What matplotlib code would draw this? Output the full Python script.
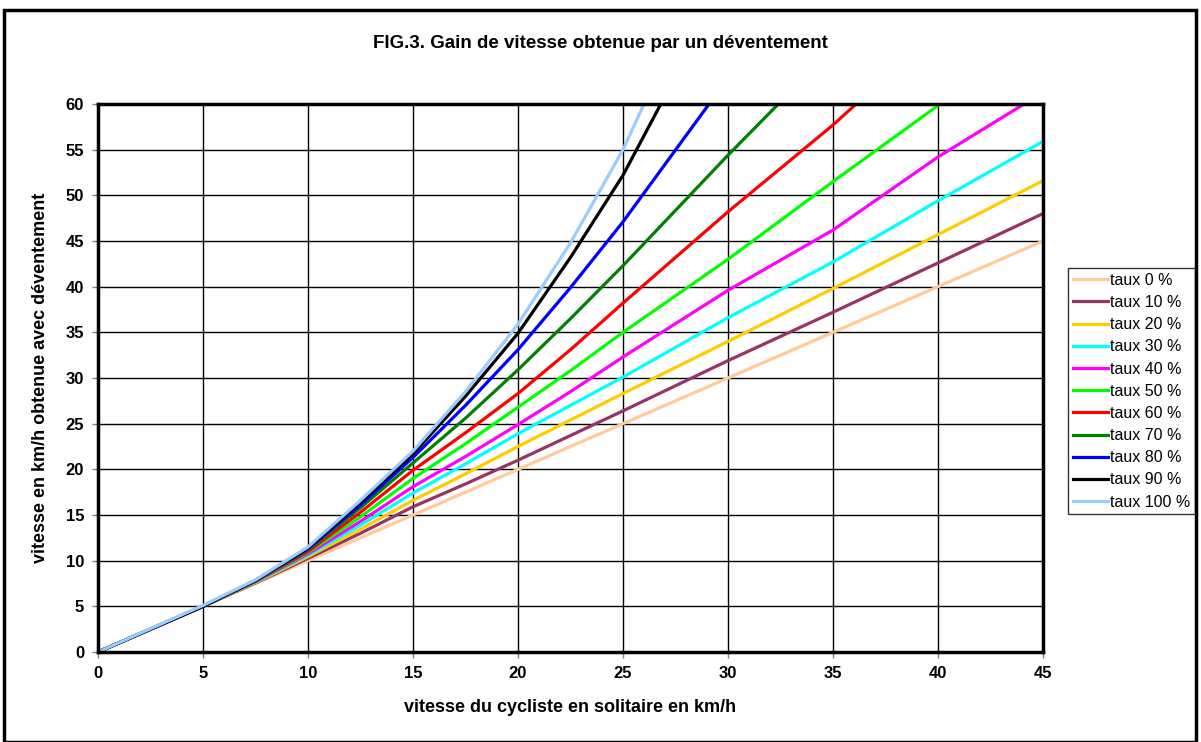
import matplotlib.pyplot as plt
from matplotlib.patches import Rectangle

plt.rcParams['font.family'] = ['Liberation Sans', 'DejaVu Sans']

# vitesse solo (x) et vitesse obtenue (y) pour chaque taux de déventement
x_0 = [0, 5, 10, 15, 20, 25, 30, 35, 40, 45]
y_0 = [0, 5, 10, 15, 20, 25, 30, 35, 40, 45]
x_10 = [0, 5, 7.5, 10, 12.5, 15, 17.5, 20, 25, 30, 35, 40, 45]
y_10 = [0, 5, 7.55, 10.25, 13.0, 15.9, 18.4, 21.0, 26.4, 31.9, 37.2, 42.6, 48.0]
x_20 = [0, 5, 7.5, 10, 12.5, 15, 17.5, 20, 25, 30, 35, 40, 45]
y_20 = [0, 5, 7.6, 10.45, 13.45, 16.6, 19.5, 22.5, 28.3, 34.0, 39.8, 45.7, 51.6]
x_30 = [0, 5, 7.5, 10, 12.5, 15, 17.5, 20, 25, 30, 35, 40, 45]
y_30 = [0, 5, 7.65, 10.6, 13.9, 17.4, 20.6, 23.9, 30.1, 36.6, 42.7, 49.4, 55.9]
x_40 = [0, 5, 7.5, 10, 12.5, 15, 17.5, 20, 22.5, 25, 30, 35, 40, 44.1]
y_40 = [0, 5, 7.7, 10.75, 14.3, 18.1, 21.4, 24.9, 28.5, 32.3, 39.6, 46.2, 54.2, 60]
x_50 = [0, 5, 7.5, 10, 12.5, 15, 17.5, 20, 22.5, 25, 30, 35, 40.1]
y_50 = [0, 5, 7.72, 10.9, 14.8, 19.0, 22.8, 26.8, 30.8, 35.0, 43.0, 51.5, 60]
x_60 = [0, 5, 7.5, 10, 12.5, 15, 17.5, 20, 22.5, 25, 30, 35, 36.1]
y_60 = [0, 5, 7.75, 11.0, 15.3, 19.9, 24.0, 28.3, 33.1, 38.2, 48.2, 57.7, 60]
x_70 = [0, 5, 7.5, 10, 12.5, 15, 17.5, 20, 22.5, 25, 30, 32.4]
y_70 = [0, 5, 7.8, 11.2, 15.8, 20.7, 25.6, 30.9, 36.5, 42.3, 54.4, 60]
x_80 = [0, 5, 7.5, 10, 12.5, 15, 17.5, 20, 22.5, 25, 29.1]
y_80 = [0, 5, 7.82, 11.3, 16.1, 21.3, 27.0, 33.1, 39.9, 47.1, 60]
x_90 = [0, 5, 7.5, 10, 12.5, 15, 17.5, 20, 22.5, 25, 26.8]
y_90 = [0, 5, 7.85, 11.4, 16.4, 21.7, 28.0, 34.9, 43.2, 52.2, 60]
x_100 = [0, 5, 7.5, 10, 12.5, 15, 17.5, 20, 22.5, 25, 26.0]
y_100 = [0, 5.1, 7.9, 11.5, 16.6, 22.0, 28.5, 35.9, 44.8, 55.0, 60]

series_x = [x_0, x_10, x_20, x_30, x_40, x_50, x_60, x_70, x_80, x_90, x_100]
series_y = [y_0, y_10, y_20, y_30, y_40, y_50, y_60, y_70, y_80, y_90, y_100]
labels = ["taux 0 %", "taux 10 %", "taux 20 %", "taux 30 %", "taux 40 %", "taux 50 %",
          "taux 60 %", "taux 70 %", "taux 80 %", "taux 90 %", "taux 100 %"]
colors = ["#FFCC99", "#993366", "#FFCC00", "#00FFFF", "#FF00FF", "#00FF00",
          "#FF0000", "#008000", "#0000FF", "#000000", "#99CCFF"]

fig = plt.figure(figsize=(12.01, 7.42), dpi=100)
ax = fig.add_axes([98 / 1201, 1 - 652 / 742, 945 / 1201, 548 / 742])

for xs, ys, lab, c in zip(series_x, series_y, labels, colors):
    ax.plot(xs, ys, color=c, lw=2.3, label=lab, solid_joinstyle='round')

ax.set_xlim(0, 45)
ax.set_ylim(0, 60)
ax.set_xticks(range(0, 46, 5))
ax.set_yticks(range(0, 61, 5))
ax.grid(True, color='black', lw=1)
ax.set_axisbelow(True)
for s in ax.spines.values():
    s.set_linewidth(2.5)
ax.tick_params(direction='out', length=4, width=1, color='#808080', pad=6)
for t in ax.get_xticklabels() + ax.get_yticklabels():
    t.set_fontweight('bold')
    t.set_fontsize(12)

ax.set_xlabel("vitesse du cycliste en solitaire en km/h", fontsize=13, fontweight='bold', labelpad=13)
ax.set_ylabel("vitesse en km/h obtenue avec déventement", fontsize=13, fontweight='bold', labelpad=12)
fig.text(0.5, 1 - 44 / 742, "FIG.3. Gain de vitesse obtenue par un déventement",
         ha='center', va='center', fontsize=13.5, fontweight='bold')

leg = ax.legend(loc='upper left', bbox_to_anchor=(1068 / 1201, 1 - 268 / 742),
                bbox_transform=fig.transFigure, fontsize=11.5, frameon=True, fancybox=False,
                edgecolor='black', borderpad=0.3, labelspacing=0.45, handlelength=2.2,
                handletextpad=0.15, borderaxespad=0)
leg.get_frame().set_linewidth(1)

# cadre extérieur
fig.patches.append(Rectangle((4 / 1201, 0.0), 1192 / 1201, 1 - 10 / 742,
                             transform=fig.transFigure, fill=False, lw=2.5, edgecolor='black'))

fig.savefig("out.png", dpi=100)
